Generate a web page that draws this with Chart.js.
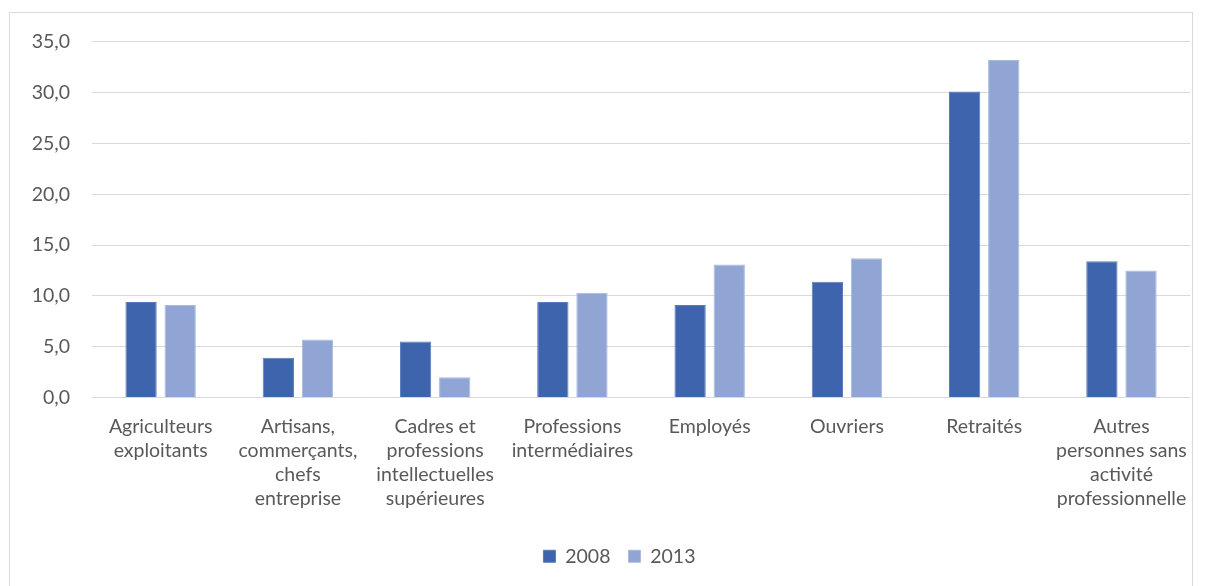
<!DOCTYPE html>
<html>
<head>
<meta charset="utf-8">
<style>
  html, body { margin: 0; padding: 0; background: #fff; overflow: hidden; }
  #cadre { position: absolute; left: 9px; top: 12px; width: 1184px; height: 590px; border: 1px solid #d9d9d9; box-sizing: border-box; }
  #cadre canvas { display: block; }
</style>
</head>
<body>
<div id="cadre"><canvas id="barChart" width="1194" height="573"></canvas></div>

<script src="https://cdn.jsdelivr.net/npm/chart.js"></script>
<script>
    // Catégories socioprofessionnelles
    var categories = [
        ["Agriculteurs", "exploitants"],
        ["Artisans,", "commerçants,", "chefs", "entreprise"],
        ["Cadres et", "professions", "intellectuelles", "supérieures"],
        ["Professions", "intermédiaires"],
        "Employés",
        "Ouvriers",
        "Retraités",
        ["Autres", "personnes sans", "activité", "professionnelle"]
    ];

    // Valeurs
    var valeurs2008 = [9.4, 3.9, 5.5, 9.4, 9.1, 11.4, 30.1, 13.4];
    var valeurs2013 = [9.1, 5.7, 2.0, 10.3, 13.1, 13.7, 33.2, 12.5];

    var tickMax = 35;
    var tickPas = 5;

    var gris = '#595959';
    var police = { family: 'Lato, "Open Sans", sans-serif', size: 19.5 };

    // bord droit voulu de la zone de tracé (coordonnées du canvas)
    var zoneDroite = 1180;

    // décale la légende un peu vers la droite, comme dans Excel
    var decalageLegende = {
        id: 'decalageLegende',
        afterLayout: function (chart) {
            if (chart.legend) { chart.legend.left += 28; }
        }
    };

    var data = {
        labels: categories,
        datasets: [{
            label: "2008",
            data: valeurs2008,
            backgroundColor: '#3d64ac',
            borderColor: '#5a7cbb',
            borderWidth: 1,
            categoryPercentage: 0.57,
            barPercentage: 0.8
        }, {
            label: "2013",
            data: valeurs2013,
            backgroundColor: '#91a5d4',
            borderColor: '#a9badf',
            borderWidth: 1,
            categoryPercentage: 0.57,
            barPercentage: 0.8
        }]
    };

    var options = {
        responsive: false,
        animation: false,
        layout: { padding: { top: 17, right: 3, left: 0, bottom: 10 } },
        plugins: {
            tooltip: { enabled: false },
            legend: {
                position: 'bottom',
                labels: {
                    color: gris,
                    font: police,
                    boxWidth: 12,
                    boxHeight: 12,
                    padding: 18
                }
            }
        },
        scales: {
            x: {
                grid: { display: false, drawTicks: false },
                border: { display: false },
                ticks: {
                    color: gris,
                    font: { family: police.family, size: 19.5, lineHeight: 1.23 },
                    padding: 17,
                    maxRotation: 0,
                    autoSkip: false
                },
                afterFit: function (scale) { scale.height = 131; }
            },
            y: {
                min: 0,
                max: tickMax,
                grid: { color: '#d9d9d9', lineWidth: 1, drawTicks: false },
                border: { display: false },
                ticks: {
                    stepSize: tickPas,
                    color: gris,
                    // hauteur de ligne réduite : la marge haute du graphique en dépend
                    font: { family: police.family, size: 19.5, lineHeight: 0.7 },
                    padding: 22,
                    callback: function (v) { return v.toFixed(1).replace('.', ','); }
                },
                afterFit: function (scale) { scale.width = 82; }
            }
        }
    };

    var ctx = document.getElementById('barChart').getContext('2d');
    var monGraphique = new Chart(ctx, { type: 'bar', data: data, options: options, plugins: [decalageLegende] });

    // recale le bord droit de la zone de tracé
    var zone = monGraphique.chartArea;
    var pad = monGraphique.options.layout.padding;
    pad.right = Math.max(0, pad.right + zone.right - zoneDroite);
    monGraphique.update();
</script>
</body>
</html>
